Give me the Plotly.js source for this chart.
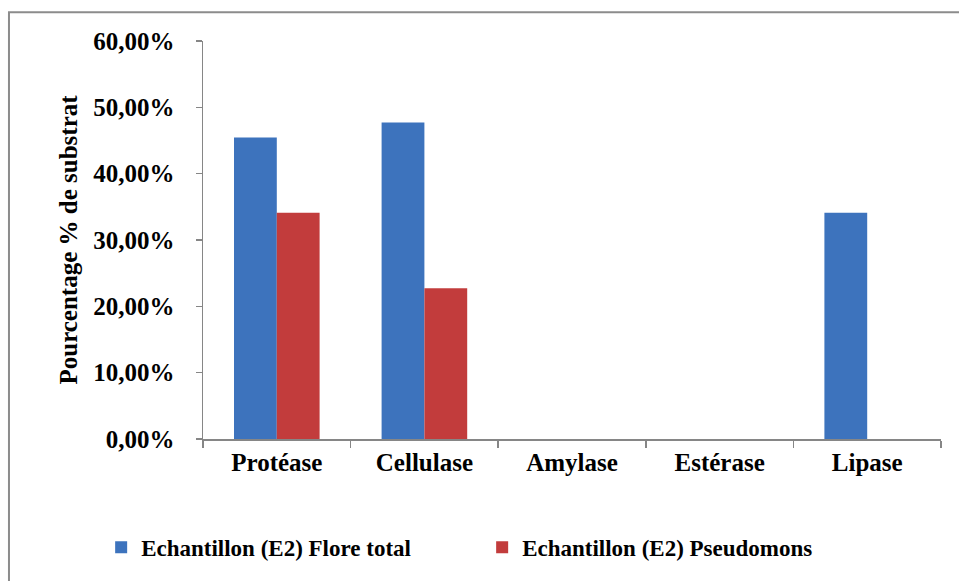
<!DOCTYPE html>
<html>
<head>
<meta charset="utf-8">
<script src="https://cdn.plot.ly/plotly-3.0.1.min.js"></script>
<style>html,body{margin:0;padding:0;background:#fff;}#chart{width:959px;height:581px;}</style>
</head>
<body>
<div id="chart"></div>
<script>
const categories = ["Protéase", "Cellulase", "Amylase", "Estérase", "Lipase"];
const seriesNames = ["Echantillon (E2) Flore total", "Echantillon (E2) Pseudomons"];
const floreTotal = [0.4545, 0.4773, 0, 0, 0.3409];
const pseudomons = [0.3409, 0.2273, 0, 0, 0];
const yTickVals = [0, 0.1, 0.2, 0.3, 0.4, 0.5, 0.6];

const F = "'Liberation Serif', 'Times New Roman', serif";
const axisGray = "#868686";

const traces = [
  {type: "bar", name: seriesNames[0], x: categories, y: floreTotal,
   marker: {color: "#3d73bd", line: {width: 0}}},
  {type: "bar", name: seriesNames[1], x: categories, y: pseudomons,
   marker: {color: "#c23c3c", line: {width: 0}}}
];

const layout = {
  width: 959, height: 581,
  paper_bgcolor: "#ffffff", plot_bgcolor: "#ffffff",
  margin: {l: 203, r: 18, t: 41, b: 139},
  separators: ", ",
  barmode: "group", bargap: 0.42, bargroupgap: 0,
  font: {family: F, color: "#000000", size: 25},
  showlegend: true,
  legend: {orientation: "h", x: -0.138, xanchor: "left", y: -0.272, yanchor: "middle",
           font: {family: F, size: 23, color: "#000", weight: "bold"},
           entrywidth: 336, entrywidthmode: "pixels", traceorder: "normal",
           bgcolor: "rgba(0,0,0,0)"},
  xaxis: {type: "category", tickson: "boundaries", ticks: "outside", ticklen: 7,
          tickcolor: axisGray, tickwidth: 1.5, showline: true, linecolor: axisGray, linewidth: 1.5,
          showgrid: false, zeroline: false, fixedrange: true,
          tickfont: {family: F, size: 25, color: "#000", weight: "bold"}},
  yaxis: {range: [0, 0.6], tickvals: yTickVals, tickformat: ".2%", ticks: "outside", ticklen: 6,
          tickcolor: axisGray, tickwidth: 1.5, showline: true, linecolor: axisGray, linewidth: 1.5,
          showgrid: false, zeroline: false, ticklabelstandoff: 16, fixedrange: true,
          automargin: true,
          tickfont: {family: F, size: 25, color: "#000", weight: "bold"},
          title: {text: "Pourcentage % de substrat", standoff: 8,
                  font: {family: F, size: 25, color: "#000", weight: "bold"}}},
  shapes: [
    {type: "rect", xref: "paper", yref: "paper", x0: -0.2629, x1: 1.04, y0: -0.36, y1: 1.0723,
     line: {color: "#8c8c8c", width: 2}, fillcolor: "rgba(0,0,0,0)", layer: "below"}
  ]
};

Plotly.newPlot("chart", traces, layout, {displayModeBar: false, staticPlot: true});
</script>
</body>
</html>
